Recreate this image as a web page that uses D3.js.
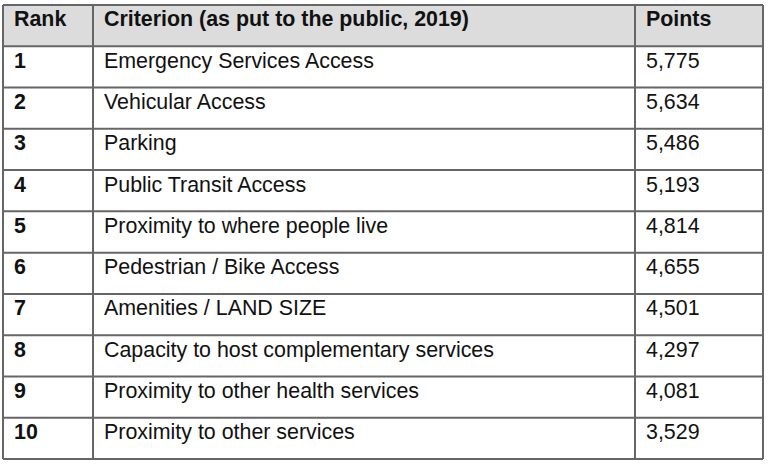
<!DOCTYPE html>
<html>
<head>
<meta charset="utf-8">
<script src="https://cdn.jsdelivr.net/npm/d3@7"></script>
<style>
  body { margin: 0; background: #fff; }
  svg { display: block; }
  text { font-family: "Liberation Sans", Arial, sans-serif; fill: #111; }
</style>
</head>
<body>
<svg id="chart" width="768" height="465"></svg>
<script>
// table data
var headers = ["Rank", "Criterion (as put to the public, 2019)", "Points"];
var ranks = [1, 2, 3, 4, 5, 6, 7, 8, 9, 10];
var criteria = [
    "Emergency Services Access",
    "Vehicular Access",
    "Parking",
    "Public Transit Access",
    "Proximity to where people live",
    "Pedestrian / Bike Access",
    "Amenities / LAND SIZE",
    "Capacity to host complementary services",
    "Proximity to other health services",
    "Proximity to other services"
];
var points = [5775, 5634, 5486, 5193, 4814, 4655, 4501, 4297, 4081, 3529];

var svg = d3.select("#chart");

// column edges
var colEdges = [3, 93, 635, 763];
var colPad = 11;

// rows: header + data rows
var rowKeys = ["header"].concat(ranks);
var y = d3.scaleBand()
    .domain(rowKeys)
    .range([5, 459])
    .padding(0);

var fmt = d3.format(",");

var rows = ranks.map(function (r, i) {
    return [String(r), criteria[i], fmt(points[i])];
});

// header background
svg.append("rect")
    .attr("x", colEdges[0])
    .attr("y", y("header"))
    .attr("width", colEdges[3] - colEdges[0])
    .attr("height", y.bandwidth())
    .style("fill", "#dcdcdc");

// header text
svg.append("g").selectAll("text")
    .data(headers)
    .join("text")
    .attr("x", function (d, i) { return colEdges[i] + colPad; })
    .attr("y", y("header") + 21)
    .style("font-size", "21.4px")
    .style("font-weight", "bold")
    .text(function (d) { return d; });

// body text
var g = svg.append("g");
rows.forEach(function (row, ri) {
    var yy = y(ranks[ri]) + 21.5;
    row.forEach(function (cell, ci) {
        g.append("text")
            .attr("x", colEdges[ci] + colPad)
            .attr("y", yy)
            .style("font-size", "21.4px")
            .style("font-weight", ci === 0 ? "bold" : "normal")
            .text(cell);
    });
});

// grid lines
var lines = svg.append("g")
    .style("stroke", "#666")
    .style("stroke-width", 2);

var yEdges = rowKeys.map(function (k) { return y(k); }).concat([y(ranks[ranks.length - 1]) + y.bandwidth()]);

lines.selectAll("line.h")
    .data(yEdges)
    .join("line")
    .attr("class", "h")
    .attr("x1", colEdges[0])
    .attr("x2", colEdges[3])
    .attr("y1", function (d) { return d; })
    .attr("y2", function (d) { return d; });

lines.selectAll("line.v")
    .data(colEdges)
    .join("line")
    .attr("class", "v")
    .attr("x1", function (d) { return d; })
    .attr("x2", function (d) { return d; })
    .attr("y1", yEdges[0])
    .attr("y2", yEdges[yEdges.length - 1]);
</script>
</body>
</html>
